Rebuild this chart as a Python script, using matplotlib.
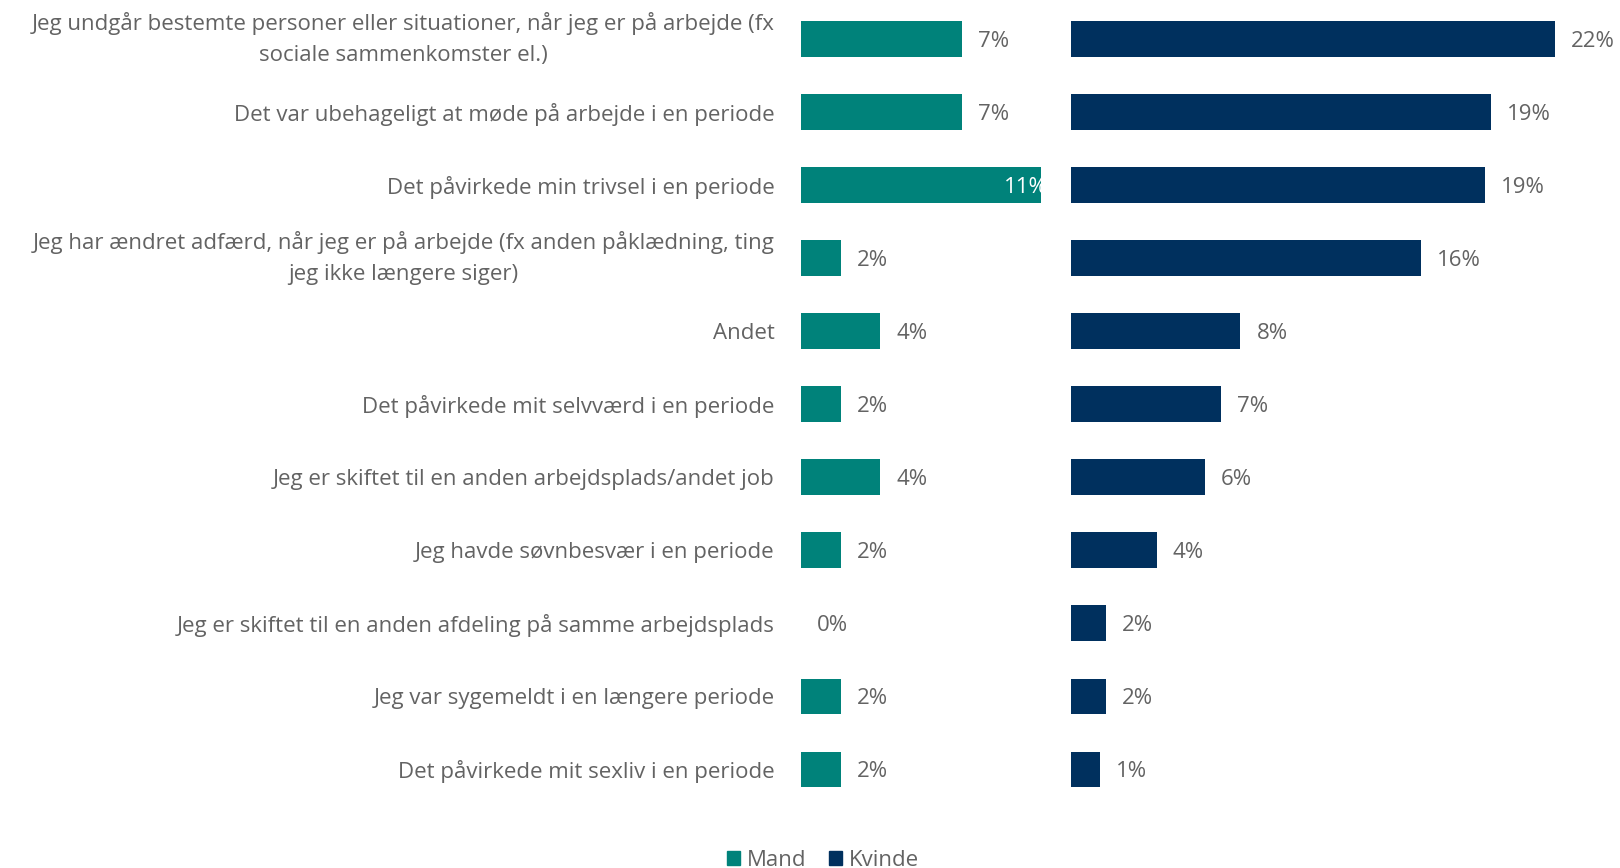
import matplotlib

matplotlib.use('Agg')
import matplotlib.pyplot as plt
from matplotlib.patches import Patch
from matplotlib.transforms import offset_copy

categories = [
    'Jeg undgår bestemte personer eller situationer, når jeg er på arbejde (fx\nsociale sammenkomster el.)',
    'Det var ubehageligt at møde på arbejde i en periode',
    'Det påvirkede min trivsel i en periode',
    'Jeg har ændret adfærd, når jeg er på arbejde (fx anden påklædning, ting\njeg ikke længere siger)',
    'Andet',
    'Det påvirkede mit selvværd i en periode',
    'Jeg er skiftet til en anden arbejdsplads/andet job',
    'Jeg havde søvnbesvær i en periode',
    'Jeg er skiftet til en anden afdeling på samme arbejdsplads',
    'Jeg var sygemeldt i en længere periode',
    'Det påvirkede mit sexliv i en periode',
]
mand = [7.3, 7.3, 11.4, 1.8, 3.6, 1.8, 3.6, 1.8, 0.0, 1.8, 1.8]
kvinde = [22.0, 19.1, 18.8, 15.9, 7.7, 6.8, 6.1, 3.9, 1.6, 1.6, 1.3]

TEAL = '#00827A'
NAVY = '#00305E'
GREY = '#636363'
FS = 16

plt.rcParams['font.family'] = ['Open Sans', 'DejaVu Sans']

W, H = 1620, 868
fig = plt.figure(figsize=(W / 100, H / 100), dpi=100)

top, bottom = 2.5, 806
ax_h = (bottom - top) / H
ax_y = (H - bottom) / H
ax_l = fig.add_axes([801 / W, ax_y, 240 / W, ax_h])
ax_r = fig.add_axes([1071 / W, ax_y, 549 / W, ax_h])

px_per_pct = 22.0
rows = range(len(categories))

for ax, values, color, width_px in ((ax_l, mand, TEAL, 240), (ax_r, kvinde, NAVY, 549)):
    xmax = width_px / px_per_pct
    ax.barh(rows, values, height=0.49, color=color)
    ax.set_xlim(0, xmax)
    ax.set_ylim(len(categories) - 0.5, -0.5)
    for i, v in enumerate(values):
        label = f'{round(v)}%'
        if v > xmax:
            trans = offset_copy(ax.transData, fig=fig, x=-4, y=-2, units='dots')
            ax.text(v, i, label, ha='right', va='center', color='white',
                    fontsize=FS, transform=trans, clip_on=True)
        else:
            trans = offset_copy(ax.transData, fig=fig, x=16, y=-2, units='dots')
            ax.text(v, i, label, ha='left', va='center', color=GREY,
                    fontsize=FS, transform=trans)
    ax.set_xticks([])
    for side in ('top', 'right', 'bottom', 'left'):
        ax.spines[side].set_visible(False)

ax_l.set_yticks(list(rows))
ax_l.set_yticklabels(categories, multialignment='center', color=GREY,
                     fontsize=FS, linespacing=1.6)
for tick in ax_l.get_yticklabels():
    if '\n' in tick.get_text():
        tick.set_va('center')
ax_l.tick_params(axis='y', length=0, pad=19)
ax_r.set_yticks([])

handles = [Patch(color=TEAL, label='Mand'), Patch(color=NAVY, label='Kvinde')]
fig.legend(handles=handles, loc='center', bbox_to_anchor=(823 / W, 1 - 860 / H),
           ncol=2, frameon=False, fontsize=FS, labelcolor=GREY,
           handlelength=0.6, handleheight=0.6, handletextpad=0.3, columnspacing=1.0)

fig.savefig('out.png', dpi=100)
